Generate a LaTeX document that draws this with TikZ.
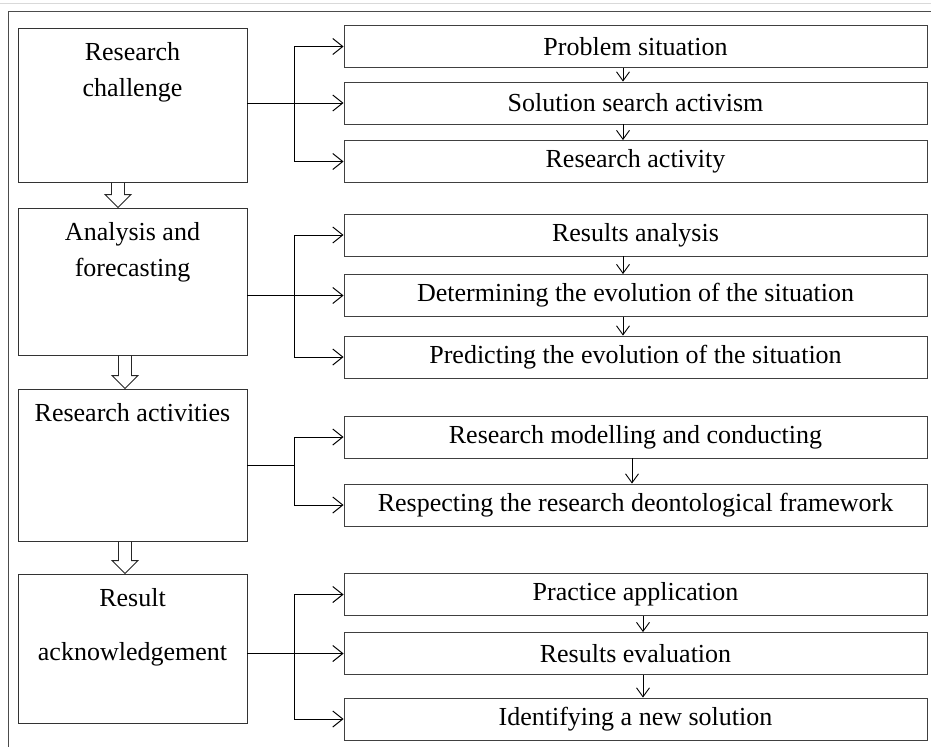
\documentclass[tikz,border=0pt]{standalone}
\usepackage{fontspec}
\setmainfont{Liberation Serif}
\usetikzlibrary{arrows.meta,calc}
\newcommand{\hollowdown}[3]{%
  \draw[hollow] let \p1=(#1.south), \p2=(#2.north) in
    (#3pt-6.5pt,\y1) -- (#3pt-6.5pt,\y2+13pt) -- (#3pt-13pt,\y2+13pt) -- (#3pt,\y2)
    -- (#3pt+13pt,\y2+13pt) -- (#3pt+6.5pt,\y2+13pt) -- (#3pt+6.5pt,\y1);}

\begin{document}
\begin{tikzpicture}[x=1pt, y=-1pt]
  \tikzset{stage/.style={draw=black!80, line width=0.9pt, minimum width=229pt, inner sep=0pt},
           stagetxt/.style={anchor=north, align=center, inner sep=0pt, font=\fontsize{26}{36}\selectfont},
           item/.style={draw=black!75, line width=0.9pt, minimum width=583pt, minimum height=42pt, inner sep=0pt, font=\fontsize{26}{30}\selectfont},
           feed/.style={->, >={Straight Barb[length=10pt,width=16pt]}, line width=1pt},
           next/.style={->, >={Straight Barb[length=9pt,width=13pt]}, line width=0.9pt},
           hollow/.style={draw=black!85, line width=0.9pt}}
  \useasboundingbox (0,0) rectangle (931,747);
  \draw[black!15, line width=0.8pt] (0,3) -- (931,3);
  \draw[black!70, line width=0.9pt] (931,11) -- (8,11) -- (8,747);

  \node[stage, minimum height=154pt] (chal) at (132.5,105) {};
  \node[stage, minimum height=147pt] (anal) at (132.5,281.5) {};
  \node[stage, minimum height=152pt] (act) at (132.5,465) {};
  \node[stage, minimum height=149pt] (ack) at (132.5,648.5) {};
  \node[stagetxt] (chalT) at ($(chal.north)+(0,15)$) {Research\\challenge};
  \node[stagetxt] (analT) at ($(anal.north)+(0,15)$) {Analysis and\\forecasting};
  \node[stagetxt] (actT) at ($(act.north)+(0,15)$) {Research activities};
  \node[stagetxt] (ackT) at ($(ack.north)+(0,15)$) {Result\\[18pt]acknowledgement};
  \hollowdown{chal}{anal}{118}
  \hollowdown{anal}{act}{125}
  \hollowdown{act}{ack}{125}

  \node[item] (probsit) at (635.5,46.5) {Problem situation};
  \node[item] (solsearch) at (635.5,103) {Solution search activism};
  \node[item] (resact) at (635.5,161.5) {Research activity};
  \draw[next] (probsit.south -| 623,0) -- (solsearch.north -| 623,0);
  \draw[next] (solsearch.south -| 623,0) -- (resact.north -| 623,0);
  \draw[feed] (chal.east |- solsearch.west) -- (solsearch.west);
  \draw[feed] (solsearch.west -| 294,0) |- (probsit.west);
  \draw[feed] (solsearch.west -| 294,0) |- (resact.west);

  \node[item] (resanal) at (635.5,235) {Results analysis};
  \node[item] (evodet) at (635.5,295.5) {Determining the evolution of the situation};
  \node[item] (evopred) at (635.5,357) {Predicting the evolution of the situation};
  \draw[next] (resanal.south -| 623,0) -- (evodet.north -| 623,0);
  \draw[next] (evodet.south -| 623,0) -- (evopred.north -| 623,0);
  \draw[feed] (anal.east |- evodet.west) -- (evodet.west);
  \draw[feed] (evodet.west -| 294,0) |- (resanal.west);
  \draw[feed] (evodet.west -| 294,0) |- (evopred.west);

  \node[item] (modcond) at (635.5,437) {Research modelling and conducting};
  \node[item] (deonto) at (635.5,505) {Respecting the research deontological framework};
  \draw[next] (modcond.south -| 632,0) -- (deonto.north -| 632,0);
  \draw (act.east) -- (act.east -| 294,0);
  \draw[feed] (act.east -| 294,0) |- (modcond.west);
  \draw[feed] (act.east -| 294,0) |- (deonto.west);

  \node[item] (practice) at (635.5,594.5) {Practice application};
  \node[item] (reseval) at (635.5,653.5) {Results evaluation};
  \node[item] (newsol) at (635.5,719) {Identifying a new solution};
  \draw[next] (practice.south -| 643,0) -- (reseval.north -| 643,0);
  \draw[next] (reseval.south -| 643,0) -- (newsol.north -| 643,0);
  \draw[feed] (ack.east |- reseval.west) -- (reseval.west);
  \draw[feed] (reseval.west -| 294,0) |- (practice.west);
  \draw[feed] (reseval.west -| 294,0) |- (newsol.west);
\end{tikzpicture}
\end{document}
